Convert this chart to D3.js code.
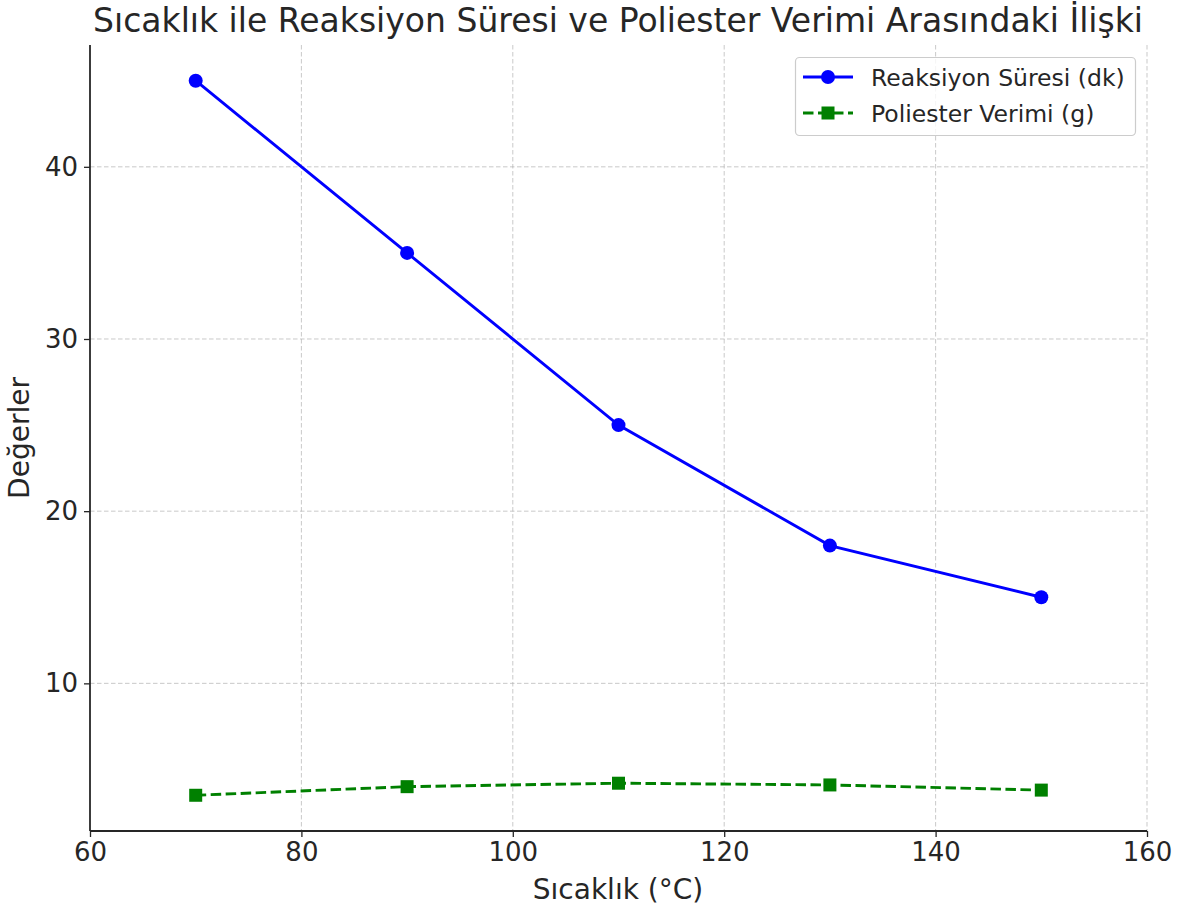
<!DOCTYPE html>
<html><head><meta charset="utf-8">
<script src="https://cdn.jsdelivr.net/npm/d3@7"></script>
<style>body{margin:0;background:#fff}svg{display:block}text{font-family:"DejaVu Sans",sans-serif;fill:#262626}</style>
</head><body>
<svg id="c" width="1182" height="913"></svg>
<script>
const temps = [70, 90, 110, 130, 150];
const reactionTime = [45, 35, 25, 18, 15];
const polyYield = [3.5, 4.0, 4.2, 4.1, 3.8];
const xTicks = [60, 80, 100, 120, 140, 160];
const yTicks = [10, 20, 30, 40];
const seriesNames = ["Reaksiyon Süresi (dk)", "Poliester Verimi (g)"];
const title = "Sıcaklık ile Reaksiyon Süresi ve Poliester Verimi Arasındaki İlişki";

const svg = d3.select("#c");
const L = 90, R = 1147, T = 45, B = 831;
const x = d3.scaleLinear().domain([60, 160]).range([L, R]);
const y = d3.scaleLinear().domain([1.425, 47.075]).range([B, T]);

// grid
const g = svg.append("g");
g.selectAll(".gx").data(xTicks.slice(1)).join("line")
  .attr("x1", d => x(d)).attr("x2", d => x(d)).attr("y1", T).attr("y2", B)
  .attr("stroke", "#b0b0b0").attr("stroke-width", 0.9).attr("stroke-dasharray", "4.5,2.5").attr("opacity", 0.75);
g.selectAll(".gy").data(yTicks).join("line")
  .attr("x1", L).attr("x2", R).attr("y1", d => y(d)).attr("y2", d => y(d))
  .attr("stroke", "#b0b0b0").attr("stroke-width", 0.9).attr("stroke-dasharray", "4.5,2.5").attr("opacity", 0.75);

// axes
const xAxis = d3.axisBottom(x).tickValues(xTicks).tickSize(6).tickPadding(6);
const yAxis = d3.axisLeft(y).tickValues(yTicks).tickSize(6).tickPadding(6);
const xa = svg.append("g").attr("transform", `translate(0,${B})`).call(xAxis);
const ya = svg.append("g").attr("transform", `translate(${L},0)`).call(yAxis);
[xa, ya].forEach(a => {
  a.select(".domain").attr("stroke", "#262626").attr("stroke-width", 1.8);
  a.selectAll(".tick line").attr("stroke", "#262626").attr("stroke-width", 1.3);
  a.selectAll(".tick text").attr("font-size", 26).attr("font-family", "DejaVu Sans").attr("fill", "#262626");
});
xa.select(".domain").attr("d", `M${L},0H${R}`);
ya.select(".domain").attr("d", `M0,${B}V${T}`);

// lines
const line1 = d3.line().x((d, i) => x(temps[i])).y(d => y(d));
svg.append("path").datum(reactionTime).attr("d", line1)
  .attr("fill", "none").attr("stroke", "#0000ff").attr("stroke-width", 2.9);
svg.selectAll(".c1").data(reactionTime).join("circle")
  .attr("cx", (d, i) => x(temps[i])).attr("cy", d => y(d)).attr("r", 7).attr("fill", "#0000ff");

svg.append("path").datum(polyYield).attr("d", line1)
  .attr("fill", "none").attr("stroke", "#008000").attr("stroke-width", 2.9).attr("stroke-dasharray", "10.5,4.5");
svg.selectAll(".s2").data(polyYield).join("rect")
  .attr("x", (d, i) => x(temps[i]) - 6.5).attr("y", d => y(d) - 6.5).attr("width", 13).attr("height", 13).attr("fill", "#008000");

// title & labels
svg.append("text").attr("x", 618).attr("y", 32).attr("text-anchor", "middle")
  .attr("font-size", 34).attr("textLength", 1050).attr("lengthAdjust", "spacingAndGlyphs").attr("fill", "#333").text(title);
svg.append("text").attr("x", 618).attr("y", 899).attr("text-anchor", "middle").attr("font-size", 28).text("Sıcaklık (°C)");
svg.append("text").attr("transform", "translate(29,438) rotate(-90)").attr("text-anchor", "middle").attr("font-size", 28).text("Değerler");

// legend
const lg = svg.append("g");
lg.append("rect").attr("x", 795.5).attr("y", 57.5).attr("width", 340).attr("height", 78).attr("rx", 4)
  .attr("fill", "#fff").attr("fill-opacity", 0.8).attr("stroke", "#cccccc").attr("stroke-width", 1.2);
lg.append("line").attr("x1", 803).attr("x2", 853).attr("y1", 77).attr("y2", 77).attr("stroke", "#0000ff").attr("stroke-width", 2.9);
lg.append("circle").attr("cx", 828).attr("cy", 77).attr("r", 7).attr("fill", "#0000ff");
lg.append("line").attr("x1", 803).attr("x2", 853).attr("y1", 113).attr("y2", 113).attr("stroke", "#008000").attr("stroke-width", 2.9).attr("stroke-dasharray", "10.5,4.5");
lg.append("rect").attr("x", 821.5).attr("y", 106.5).attr("width", 13).attr("height", 13).attr("fill", "#008000");
lg.append("text").attr("x", 871).attr("y", 86).attr("font-size", 23.5).attr("fill", "#333").text(seriesNames[0]);
lg.append("text").attr("x", 871).attr("y", 122).attr("font-size", 23.5).attr("fill", "#333").text(seriesNames[1]);
</script>
</body></html>
